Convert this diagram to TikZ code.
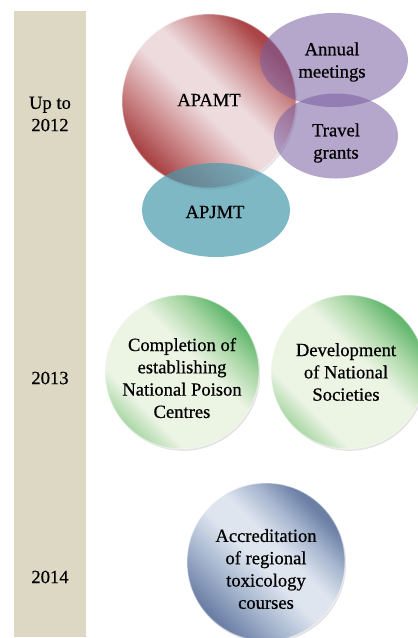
\documentclass[tikz,border=0pt]{standalone}
\usepackage{fontspec}
\setmainfont{Liberation Serif}
\newfontfamily\capfont{Liberation Serif}[FakeBold=0.6]
\usetikzlibrary{shapes.geometric,shadows}

% palette
\definecolor{barbeige}{RGB}{221,216,196}
\definecolor{reddark}{RGB}{170,68,70}
\definecolor{redmid}{RGB}{205,140,142}
\definecolor{redlight}{RGB}{237,219,221}
\definecolor{violet}{RGB}{120,92,160}
\definecolor{tealish}{RGB}{73,154,173}
\definecolor{greendark}{RGB}{100,184,112}
\definecolor{greenmid}{RGB}{170,215,166}
\definecolor{greenlight}{RGB}{236,244,228}
\definecolor{bluedark}{RGB}{108,127,165}
\definecolor{bluemid}{RGB}{166,182,207}
\definecolor{bluelight}{RGB}{222,229,239}

% glossy diagonal fills for the round badges
\pgfdeclareverticalshading{redball}{100bp}{color(0bp)=(reddark); color(26bp)=(reddark); color(36bp)=(redmid); color(47bp)=(redlight); color(55bp)=(redlight); color(65bp)=(redmid); color(73bp)=(reddark); color(100bp)=(reddark)}
\pgfdeclareverticalshading{greenball}{100bp}{color(0bp)=(greenmid); color(25bp)=(greenmid); color(33bp)=(greenlight); color(46bp)=(greenlight); color(56bp)=(greenlight); color(66bp)=(greenmid); color(74bp)=(greendark); color(100bp)=(greendark)}
\pgfdeclareverticalshading{blueball}{100bp}{color(0bp)=(bluedark); color(26bp)=(bluedark); color(37bp)=(bluemid); color(48bp)=(bluelight); color(56bp)=(bluelight); color(65bp)=(bluemid); color(73bp)=(bluedark); color(100bp)=(bluedark)}

\tikzset{
  txt/.style={font=\capfont\fontsize{18.6}{22.3}\selectfont, align=center, text=black, inner sep=0pt},
  badge/.style={circle, inner sep=0pt, minimum size=#1, shading angle=-45,
    draw=white, draw opacity=0.4, line width=1.2pt,
    drop shadow={shadow xshift=1.2pt, shadow yshift=-1.8pt, opacity=0.25, fill=black!45, draw=none}},
  bubble/.style={ellipse, inner sep=0pt, fill opacity=#1, text opacity=1},
}

\begin{document}
\begin{tikzpicture}[x=1pt, y=-1pt]
  \useasboundingbox (0,0) rectangle (418,638);
  \clip (0,0) rectangle (418,638);

  % timeline bar
  \fill[barbeige] (14,11) rectangle (86,637);
  \node[txt] (y2012) at (50,114) {Up to\\2012};
  \node[txt] (y2013) at (50,378) {2013};
  \node[txt] (y2014) at (50,577) {2014};

  % up to 2012
  \node[badge=174pt, shading=redball] (apamt) at (209,101) {};
  \node[bubble=0.55, fill=violet, minimum width=148pt, minimum height=94pt] (annual) at (334,60) {};
  \node[bubble=0.55, fill=violet, minimum width=124pt, minimum height=85pt] (travel) at (336,136) {};
  \node[bubble=0.7, fill=tealish, minimum width=148pt, minimum height=94pt] (apjmt) at (216,210) {};
  \node[txt] (apamt-t) at (209,100) {APAMT};
  \node[txt] (annual-t) at (332,62) {Annual\\meetings};
  \node[txt] (travel-t) at (336,143) {Travel\\grants};
  \node[txt] (apjmt-t) at (215,212) {APJMT};

  % 2013
  \node[badge=154pt, shading=greenball] (poison) at (182,372) {};
  \node[badge=154pt, shading=greenball] (societies) at (348,372) {};
  \node[txt] (poison-t) at (182,378) {Completion of\\establishing\\National Poison\\Centres};
  \node[txt] (societies-t) at (346,372) {Development\\of National\\Societies};

  % 2014
  \node[badge=158pt, shading=blueball] (courses) at (266,562) {};
  \node[txt] (courses-t) at (266,569) {Accreditation\\of regional\\toxicology\\courses};
\end{tikzpicture}
\end{document}
